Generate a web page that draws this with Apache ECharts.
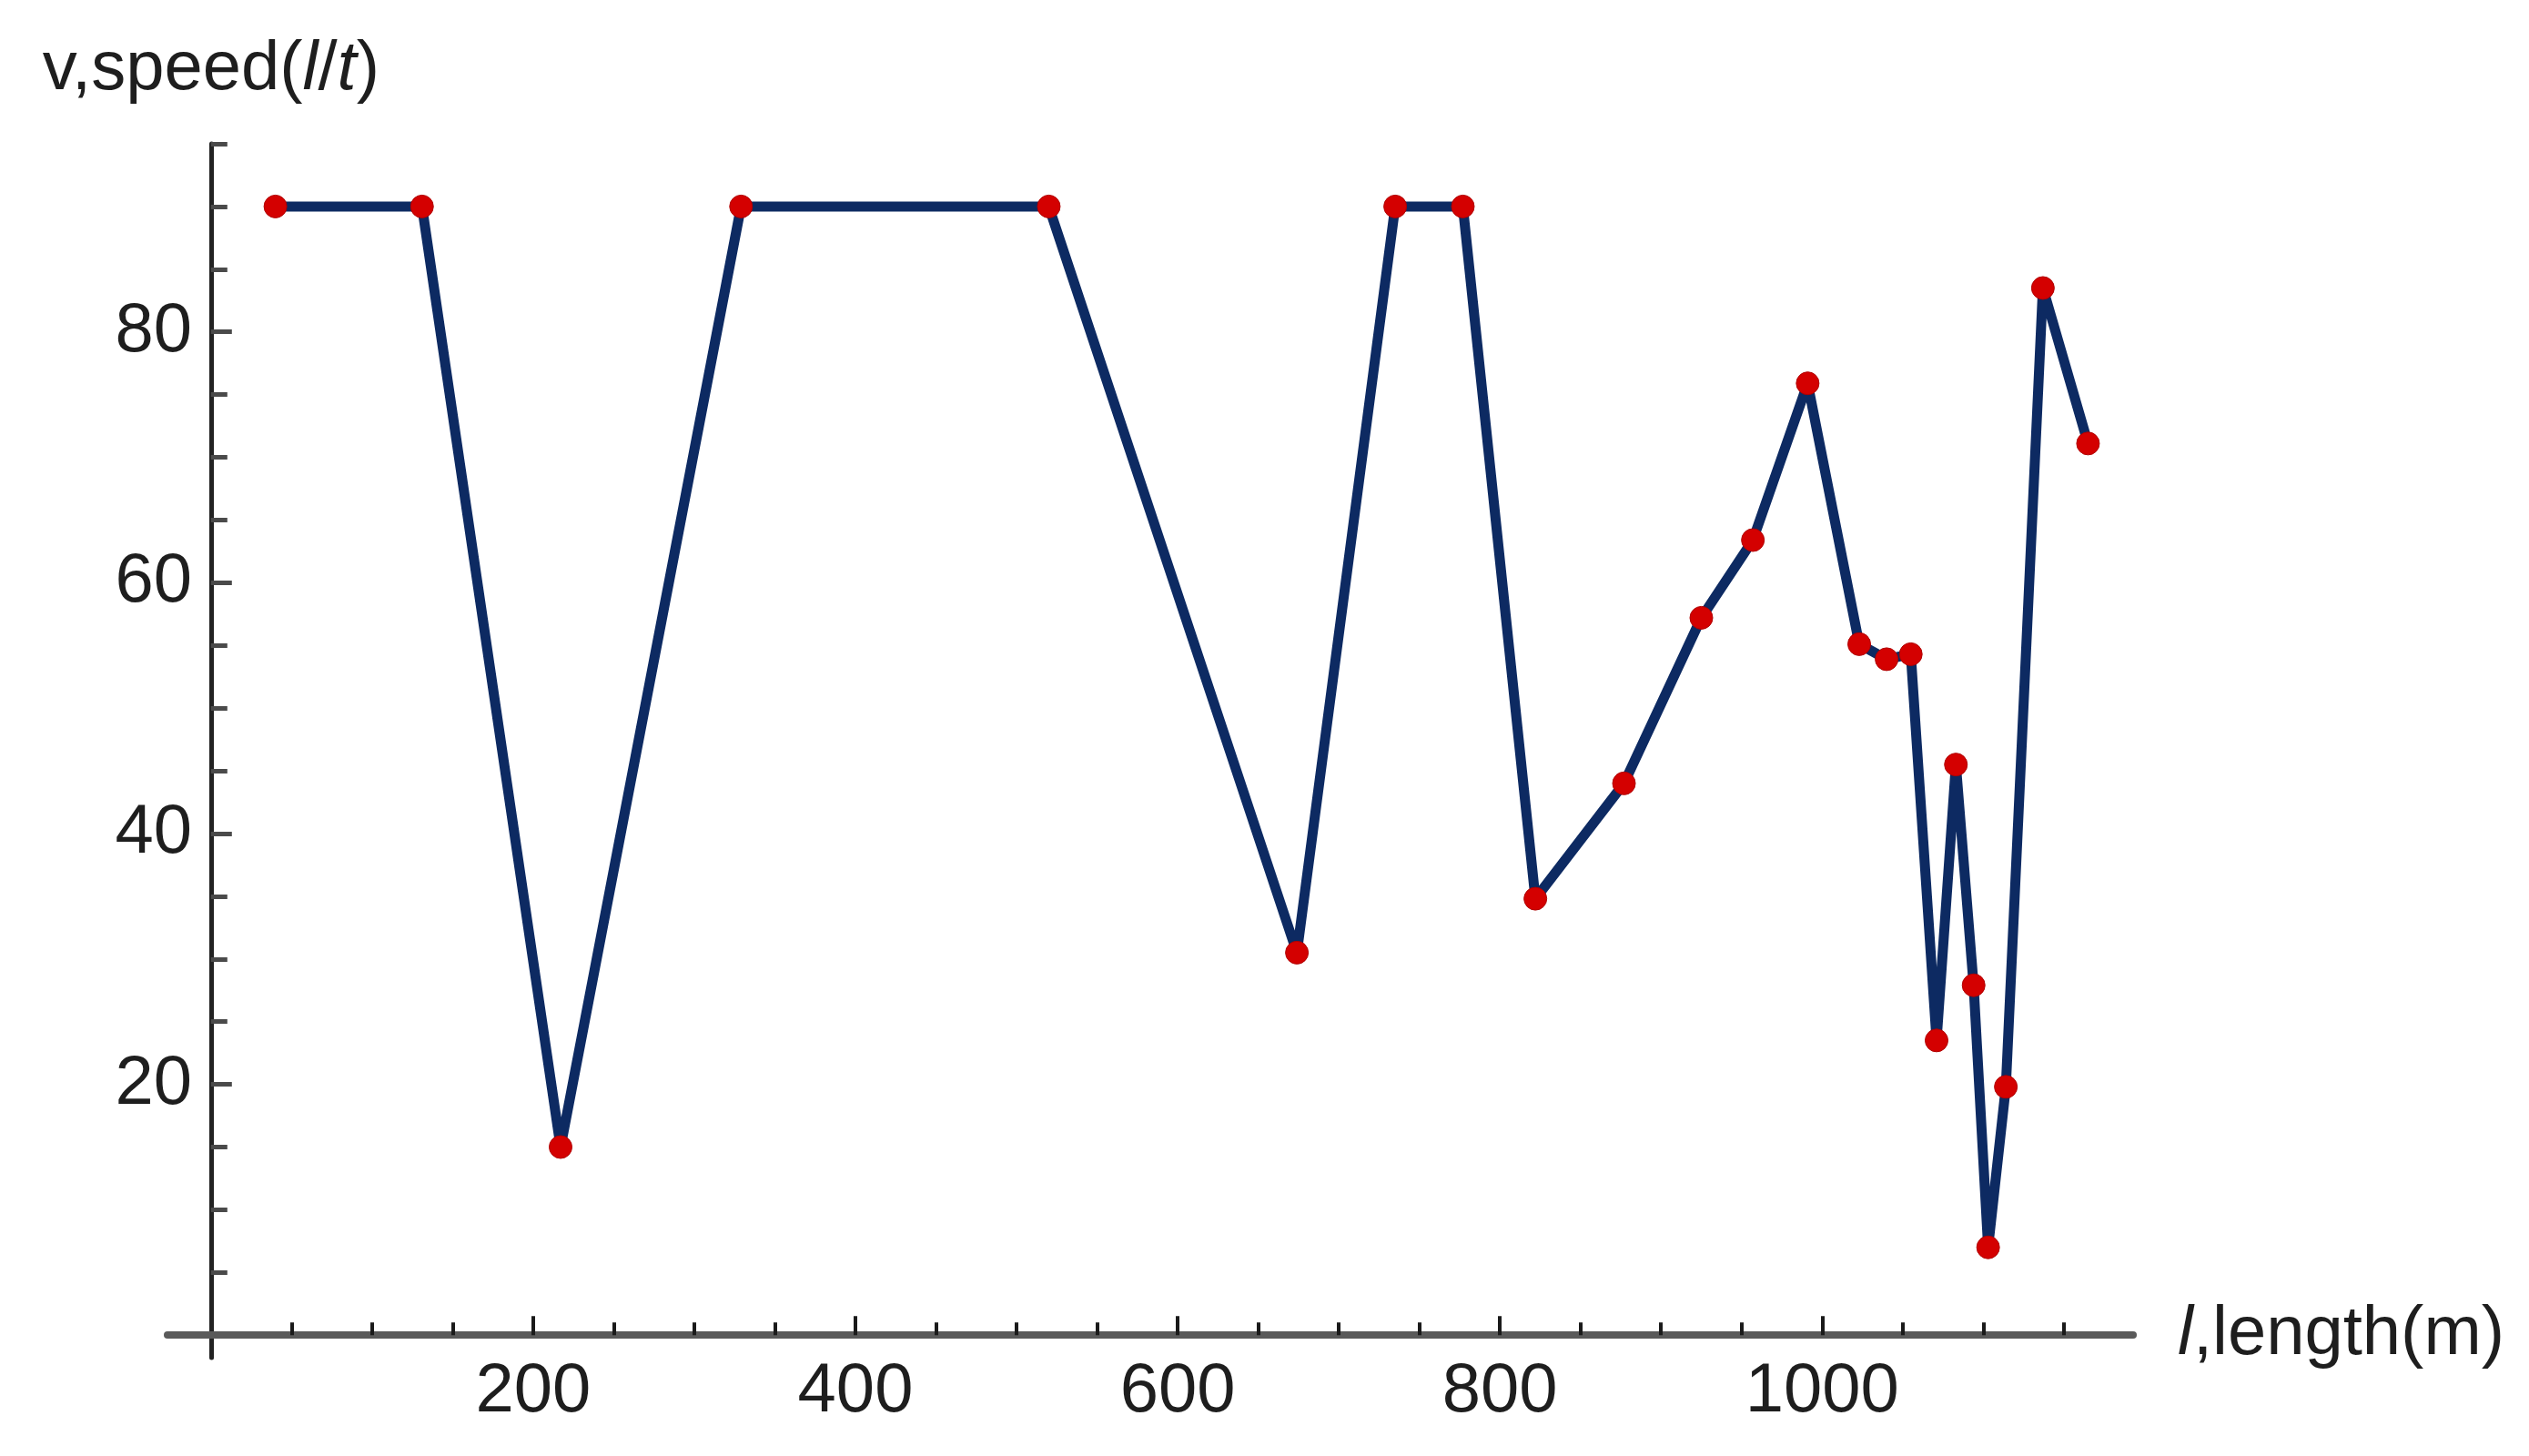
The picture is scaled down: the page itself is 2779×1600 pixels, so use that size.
<!DOCTYPE html>
<html>
<head>
<meta charset="utf-8">
<script src="https://cdn.jsdelivr.net/npm/echarts@6/dist/echarts.min.js"></script>
<style>
html,body{margin:0;padding:0;background:#fff;}
#chart{width:2779px;height:1600px;}
</style>
</head>
<body>
<div id="chart"></div>
<script>
// Data
const lengthM = [40, 131, 217, 329, 520, 674, 735, 777, 822, 877, 925, 957, 991, 1023, 1040, 1055, 1071, 1083, 1094, 1103, 1114, 1137, 1165];
const speed   = [90, 90, 15, 90, 90, 30.5, 90, 90, 34.8, 44, 57.2, 63.4, 75.9, 55.1, 53.9, 54.3, 23.5, 45.5, 27.9, 7, 19.8, 83.5, 71.1];
const xMajorTicks = [200, 400, 600, 800, 1000];
const xMinorTicks = [50, 100, 150, 250, 300, 350, 450, 500, 550, 650, 700, 750, 850, 900, 950, 1050, 1100, 1150];
const yMajorTicks = [20, 40, 60, 80];
const yMinorTicks = [5, 10, 15, 25, 30, 35, 45, 50, 55, 65, 70, 75, 85, 90, 95];

const points = lengthM.map((x, i) => [x, speed[i]]);

const FONT = 'Liberation Sans, Arial, sans-serif';
const FS = 76;
const TXT = '#1e1e1e';

const chart = echarts.init(document.getElementById('chart'), null, {renderer: 'canvas'});

const xBase = {type: 'value', min: -27, max: 1193, splitLine: {show: false}, position: 'bottom'};
const yBase = {type: 'value', min: -1.8, max: 95, splitLine: {show: false}, position: 'left'};
const plain = v => String(v);

chart.setOption({
  animation: false,
  backgroundColor: '#ffffff',
  grid: {left: 184, top: 158, width: 2160, height: 1334, containLabel: false},
  xAxis: [
    Object.assign({}, xBase, {
      name: '{i|l},length(m)',
      nameLocation: 'end',
      nameGap: 49,
      nameTextStyle: {
        fontFamily: FONT, fontSize: FS, color: TXT, verticalAlign: 'middle',
        rich: {i: {fontFamily: FONT, fontSize: FS, color: TXT, fontStyle: 'italic'}}
      },
      axisLine: {show: true, onZero: true, lineStyle: {color: '#5a5a5a', width: 8}},
      axisTick: {show: true, inside: true, length: 21, customValues: xMajorTicks, lineStyle: {color: '#1a1a1a', width: 4}},
      axisLabel: {show: true, customValues: xMajorTicks, formatter: plain, margin: 0, fontFamily: FONT, fontSize: FS, color: TXT}
    }),
    Object.assign({}, xBase, {
      axisLine: {show: false, onZero: true},
      axisTick: {show: true, inside: true, length: 14, customValues: xMinorTicks, lineStyle: {color: '#1a1a1a', width: 4}},
      axisLabel: {show: false}
    })
  ],
  yAxis: [
    Object.assign({}, yBase, {
      name: '{n|v,speed(}{i|l}{n|/}{i|t}{n|)}',
      nameLocation: 'end',
      nameGap: 43,
      nameTextStyle: {
        fontFamily: FONT, fontSize: FS, color: TXT,
        rich: {
          n: {fontFamily: FONT, fontSize: FS, color: TXT},
          i: {fontFamily: FONT, fontSize: FS, color: TXT, fontStyle: 'italic'}
        }
      },
      axisLine: {show: true, onZero: true, lineStyle: {color: '#222222', width: 5}},
      axisTick: {show: true, inside: true, length: 23, customValues: yMajorTicks, lineStyle: {color: '#4a4a4a', width: 5}},
      axisLabel: {show: true, customValues: yMajorTicks, formatter: plain, margin: -27, fontFamily: FONT, fontSize: FS, color: TXT}
    }),
    Object.assign({}, yBase, {
      axisLine: {show: false, onZero: true},
      axisTick: {show: true, inside: true, length: 18, customValues: yMinorTicks, lineStyle: {color: '#4a4a4a', width: 5}},
      axisLabel: {show: false}
    })
  ],
  series: [{
    type: 'line',
    xAxisIndex: 0,
    yAxisIndex: 0,
    data: points,
    symbol: 'circle',
    symbolSize: 25,
    showAllSymbol: true,
    itemStyle: {color: '#d40000', borderColor: '#b00000', borderWidth: 1},
    lineStyle: {color: '#0d2a62', width: 11},
    z: 5
  }]
});
</script>
</body>
</html>
